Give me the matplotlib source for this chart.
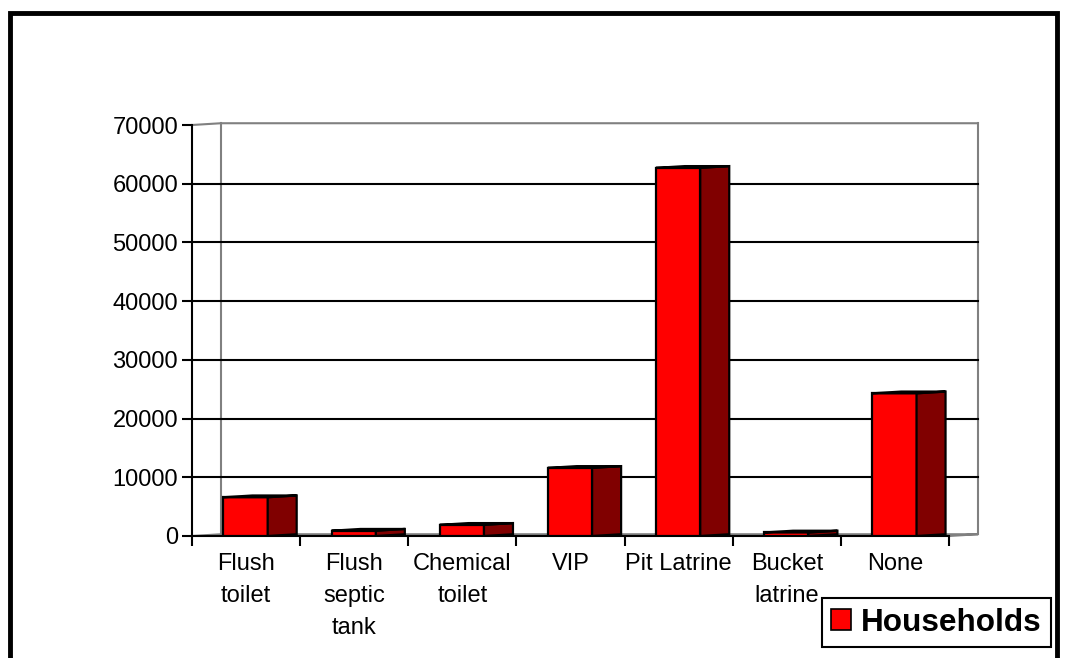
import matplotlib
matplotlib.use('Agg')
import matplotlib.pyplot as plt
from matplotlib.patches import Polygon, Rectangle, Patch

plt.rcParams['font.family'] = ['Liberation Sans', 'DejaVu Sans']

# Households by type of toilet facility
categories = ['Flush\ntoilet', 'Flush\nseptic\ntank', 'Chemical\ntoilet', 'VIP',
              'Pit Latrine', 'Bucket\nlatrine', 'None']
households = [6600, 900, 1900, 11600, 62700, 600, 24300]
y_ticks = [0, 10000, 20000, 30000, 40000, 50000, 60000, 70000]

W, H = 1066, 658
fig = plt.figure(figsize=(W / 100, H / 100), dpi=100)
ax = fig.add_axes([192 / W, (H - 536) / H, (949 - 192) / W, (536 - 125) / H])

n = len(categories)
depth_x = 0.268     # 3D depth offset in category units
depth_y = 300       # 3D depth offset in value units
face_left = 0.29
face_w = 0.41
red = '#ff0000'
dark = '#800000'

ax.set_xlim(0, n)
ax.set_ylim(0, 70000)

# back wall and floor (gray)
wall = dict(color='#808080', lw=1.5, clip_on=False, zorder=1)
ax.plot([depth_x, depth_x], [depth_y, 70000 + depth_y], **wall)
ax.plot([n + depth_x, n + depth_x], [depth_y, 70000 + depth_y], **wall)
ax.plot([0, depth_x, n + depth_x], [70000, 70000 + depth_y, 70000 + depth_y], **wall)
ax.plot([0, depth_x, n + depth_x, n], [0, depth_y, depth_y, 0], **wall)

# gridlines
for v in y_ticks[1:-1]:
    ax.plot([0, n + depth_x], [v, v], color='black', lw=1.5, clip_on=False, zorder=1)

# front faces
xs = [i + face_left for i in range(n)]
ax.bar(xs, households, width=face_w, align='edge', color=red,
       edgecolor='black', linewidth=1.6, zorder=3)

# side and top faces
for x, v in zip(xs, households):
    r = x + face_w
    side = Polygon([(r, 0), (r + depth_x, depth_y), (r + depth_x, v + depth_y), (r, v)],
                   closed=True, facecolor=dark, edgecolor='black', lw=1.6, zorder=3)
    top = Polygon([(x, v), (r, v), (r + depth_x, v + depth_y), (x + depth_x, v + depth_y)],
                  closed=True, facecolor='black', edgecolor='black', lw=1.6, zorder=3)
    ax.add_patch(side)
    ax.add_patch(top)

# axes
for s in ['top', 'right']:
    ax.spines[s].set_visible(False)
for s in ['left', 'bottom']:
    ax.spines[s].set_linewidth(1.5)
ax.set_yticks(y_ticks)
ax.tick_params(axis='y', labelsize=17, length=7, width=1.5, pad=3)

ax.set_xticks([i + 0.5 for i in range(n)])
ax.set_xticklabels(categories, va='top', linespacing=1.6)
ax.set_xticks(range(n + 1), minor=True)
ax.tick_params(axis='x', which='major', length=0, labelsize=17, pad=12)
ax.tick_params(axis='x', which='minor', length=7, width=1.5)

# legend
leg = fig.legend(handles=[Patch(facecolor=red, edgecolor='black', lw=1.2)],
                 labels=['Households'], loc='lower right',
                 bbox_to_anchor=(1051 / W, (H - 647) / H),
                 prop={'size': 22.7, 'weight': 'bold'}, fancybox=False,
                 handlelength=0.65, handleheight=0.65, handletextpad=0.3,
                 borderpad=0.3, borderaxespad=0, framealpha=1)
leg.get_frame().set_edgecolor('black')
leg.get_frame().set_linewidth(1.5)

# outer frame
fig.patches.append(Rectangle((10 / W, -0.1), (1057 - 10) / W, 1.1 - 13 / H,
                             transform=fig.transFigure, fill=False,
                             edgecolor='black', lw=3.5))

fig.savefig('out.png', dpi=100)
